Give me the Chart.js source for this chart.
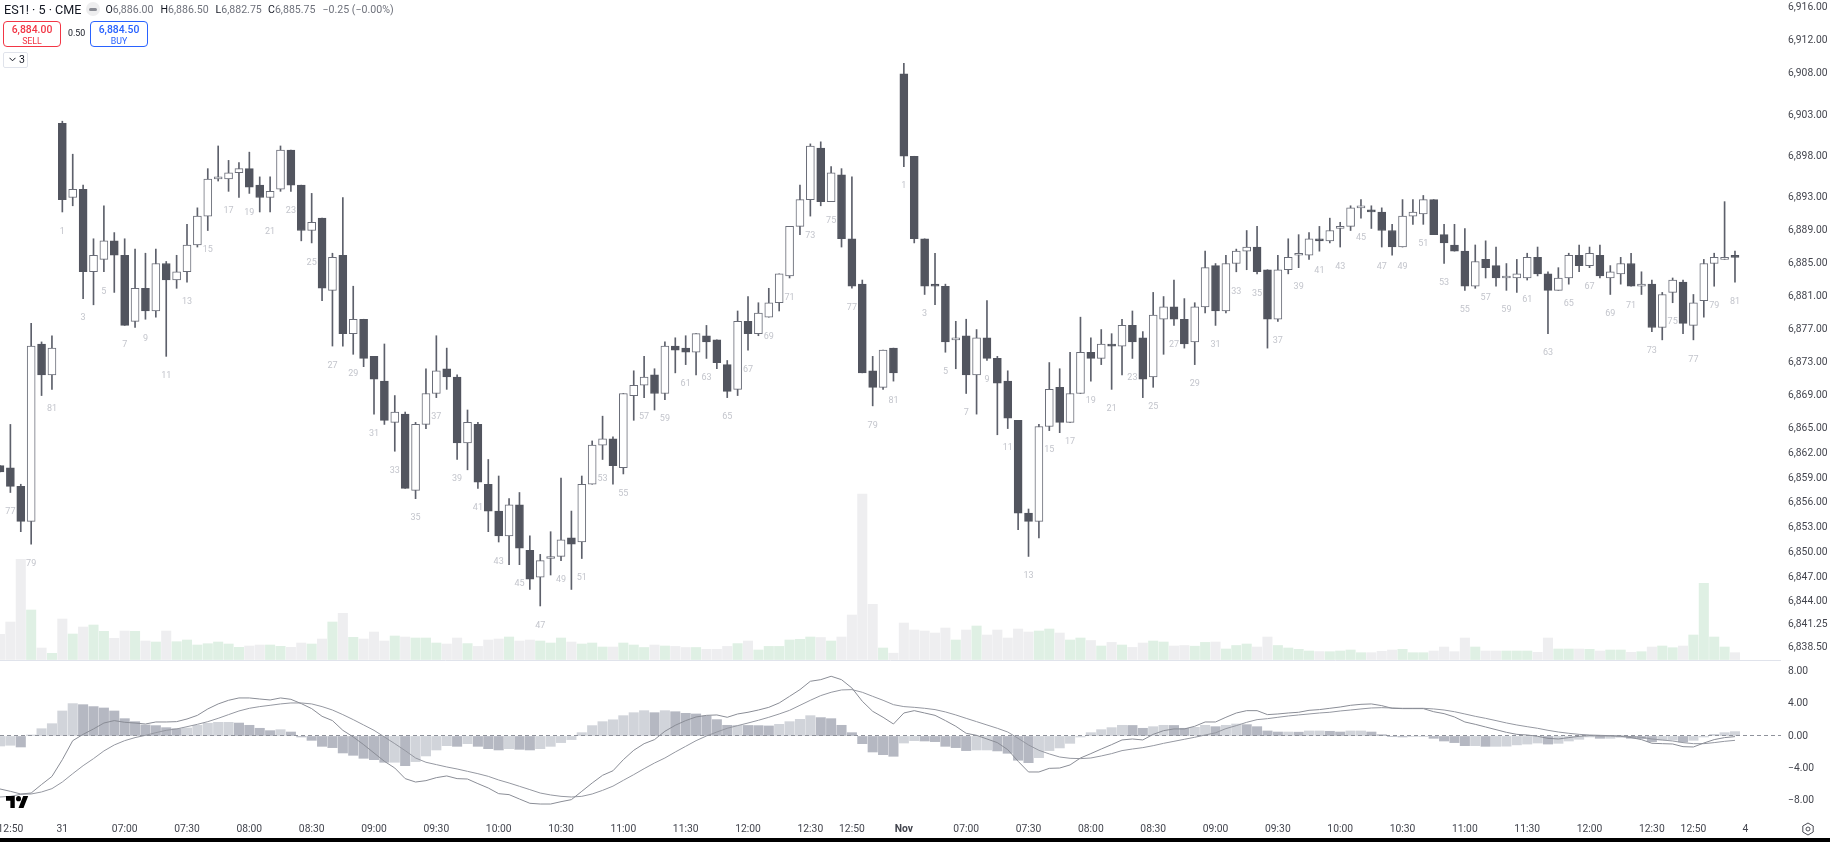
<!DOCTYPE html>
<html>
<head>
<meta charset="utf-8">
<title>ES1! 5 CME</title>
<script src="https://cdn.jsdelivr.net/npm/chart.js@4"></script>
<style>
  html, body { margin: 0; padding: 0; background: #000; overflow: hidden; }
  #wrap { position: relative; width: 1830px; height: 838px; background: #fff; font-family: Roboto, "Noto Sans", sans-serif; color: #131722; }
  #wrap canvas { position: absolute; left: 0; top: 0; }
  .abs { position: absolute; white-space: nowrap; }
  .title { left: 4px; top: 0; font-size: 12.6px; line-height: 19px; }
  .dot { left: 86px; top: 2px; width: 14px; height: 14px; border-radius: 50%; background: #eeeeef; }
  .dot i { position: absolute; left: 3px; top: 5.5px; width: 8px; height: 3px; border-radius: 2px; background: #8a8c94; }
  .ohlc { left: 105.5px; top: 0; font-size: 10.6px; line-height: 19px; color: #6f727c; }
  .ohlc span { position: absolute; top: 0; }
  .ohlc b { font-weight: 400; color: #131722; }
  .trade { top: 21px; width: 56px; height: 24px; border: 1px solid; border-radius: 4px; text-align: center; background: #fff; }
  .trade div { line-height: 10px; }
  .trade .p { font-size: 10.4px; font-weight: 500; margin-top: 2.5px; }
  .trade .s { font-size: 8.8px; margin-top: 1px; }
  .sell { left: 3px; border-color: #f23645; color: #f23645; }
  .buy { left: 90px; border-color: #2962ff; color: #2962ff; }
  .spread { left: 68px; top: 28px; font-size: 8.8px; line-height: 11px; color: #131722; }
  .toggle { left: 3px; top: 52px; width: 23px; height: 14px; border: 1px solid #e0e3eb; border-radius: 2px; font-size: 10.5px; line-height: 14px; }
  .toggle svg { position: absolute; left: 5px; top: 4px; }
  .toggle span { position: absolute; left: 15px; top: 0; }
</style>
</head>
<body>
<div id="wrap">
  <canvas id="chart" width="1830" height="838"></canvas>
  <div class="abs title">ES1! · 5 · CME</div>
  <div class="abs dot"><i></i></div>
  <div class="abs ohlc">
    <span style="left:0"><b>O</b>6,886.00</span>
    <span style="left:55px"><b>H</b>6,886.50</span>
    <span style="left:110px"><b>L</b>6,882.75</span>
    <span style="left:162.500px"><b>C</b>6,885.75</span>
    <span style="left:217px">−0.25 (−0.00%)</span>
  </div>
  <div class="abs trade sell"><div class="p">6,884.00</div><div class="s">SELL</div></div>
  <div class="abs spread">0.50</div>
  <div class="abs trade buy"><div class="p">6,884.50</div><div class="s">BUY</div></div>
  <div class="abs toggle"><svg width="7" height="5" viewBox="0 0 7 5"><path d="M.5.8 3.5 3.8 6.5.8" fill="none" stroke="#131722"/></svg><span>3</span></div>
  <svg class="abs" style="left:6px;top:796px" width="22.5" height="12" viewBox="0 4 36 18" preserveAspectRatio="none"><path d="M14 22H7V11H0V4h14v18zM28 22h-8l7.5-18h8L28 22z" fill="#000"/><circle cx="20" cy="8" r="4" fill="#000"/></svg>
  <svg class="abs" style="left:1801px;top:822px" width="14" height="14" viewBox="0 0 14 14"><path d="M7 1 12.2 4v6L7 13 1.800 10V4z" fill="none" stroke="#4a4c55"/><circle cx="7" cy="7" r="2" fill="none" stroke="#4a4c55"/></svg>
</div>
<script>
// bars, 5 min ES1!
var opens = [
  6860.5,6860.25,6858,6853.75,6875.25,6871.5,6902,6893,6894,6884,
  6885.5,6887.75,6886,6878,6882,6879.25,6885,6883,6884,6887.25,
  6890.75,6895.25,6895.25,6896,6896.5,6894.5,6893,6894,6898.75,6894.5,
  6889,6890.5,6881.75,6886,6876.5,6878.25,6873.75,6870.75,6865.75,6866.75,
  6857.5,6865.5,6869.25,6872.25,6871.25,6863.25,6865.5,6858.25,6855,6852,
  6855.75,6850.25,6847,6849.25,6849.5,6851.75,6851.25,6858.25,6863,6863.75,
  6860.25,6869,6870.25,6871.5,6869.25,6875,6874.75,6874.25,6876.25,6875.75,
  6872.75,6869.75,6878,6876.5,6878.5,6880.25,6883.5,6889.5,6892.75,6899,
  6892.5,6895.75,6888,6882.5,6872,6870,6874.75,6908,6898,6888,
  6882.5,6882.25,6875.75,6876.25,6871.5,6876,6873.5,6870.75,6866,6854.75,
  6853.75,6865.25,6870,6865.75,6869.25,6874.25,6873.5,6875.25,6875,6877.5,
  6876,6871.25,6878.25,6879.75,6878.25,6875.5,6879.75,6884.75,6879.25,6885,
  6886.5,6887,6884.25,6878.25,6884.25,6886,6886,6888,6887.75,6889.25,
  6889.5,6891.75,6891.5,6891.25,6889,6887,6890.75,6891,6892.75,6888.5,
  6887.25,6886.5,6882.25,6885.5,6884.75,6883.25,6883.25,6883.25,6885.75,6883.75,
  6881.75,6883.25,6886,6884.75,6886,6883.25,6883.75,6885,6882.25,6882.5,
  6877.25,6881.5,6882.75,6877.5,6880.5,6885,6885.5,6886
];
var highs = [
  6860.5,6865.5,6858.25,6877.75,6875.5,6876.25,6902.25,6898.25,6894.5,6888,
  6892,6888.75,6888,6886.75,6886.25,6886.75,6885.25,6886,6889.75,6891.75,
  6896.5,6899.25,6897.5,6897.25,6898.5,6895.5,6895.5,6899.25,6898.75,6894.5,
  6893.5,6890.5,6886.25,6893,6882.25,6878.25,6873.75,6875.25,6869,6867,
  6865.75,6872.25,6876.25,6874.75,6871.5,6867.25,6865.75,6861.25,6859.25,6856.5,
  6857.25,6852,6849.75,6852.5,6859,6855,6859.25,6863.5,6866.5,6864,
  6869.25,6872,6873.75,6872.25,6875.5,6876,6876.25,6876.5,6877.5,6875.75,
  6873.25,6879.25,6881,6880.25,6882,6883.75,6889.5,6894.5,6899.5,6899.75,
  6896.75,6896.5,6895.5,6883,6873.75,6874.5,6874.75,6909.25,6898,6888,
  6886.25,6882.5,6878,6878.25,6877,6880.5,6873.75,6872,6866,6855.25,
  6865.5,6873,6872.25,6874.25,6878.5,6876,6877,6876.5,6878.25,6879.25,
  6876.75,6881.5,6881,6883,6880.75,6880.25,6886.5,6885,6886,6886.75,
  6889,6889.5,6884.25,6886,6888,6888.5,6888.75,6889.5,6890.5,6890,
  6892,6892.75,6892,6891.75,6889.75,6892.75,6892.75,6893.25,6892.75,6889.75,
  6889.75,6889.25,6887.25,6887.75,6887,6885,6885.5,6886.25,6887,6884,
  6884.5,6886.25,6887.25,6887,6887.25,6884.75,6885.75,6886.25,6884,6883,
  6881.5,6883.25,6883,6881.25,6885.5,6886.25,6892.5,6886.5
];
var lows = [
  6859.75,6857.25,6852.5,6851,6869,6869.75,6891.25,6892,6880.75,6880,
  6884,6881.5,6877.5,6877.25,6878.25,6878.5,6873.75,6882,6882.75,6887,
  6889,6895,6893.75,6893,6893.5,6891.25,6891.25,6893.75,6893.75,6887.75,
  6887.5,6880.5,6875,6875,6874,6872.5,6866.75,6865.5,6862.25,6857.75,
  6856.5,6865,6868.75,6869.75,6861.25,6860,6857.75,6852.5,6851.25,6848.5,
  6848.5,6845.5,6843.5,6847.25,6849,6845.5,6849.25,6858.25,6861.25,6858.25,
  6859.5,6866,6868.75,6867.25,6868.5,6871.75,6872.75,6871.5,6873.5,6872.25,
  6868.75,6869,6874.5,6876.25,6878.5,6879.25,6883.25,6888.5,6890.75,6892,
  6892.5,6887,6882,6871.75,6867.75,6869.75,6870.75,6896.75,6887.5,6881.25,
  6880,6874.25,6872.25,6869.25,6866.75,6873.25,6864.25,6865,6852.75,6849.5,
  6851.75,6864.75,6864.5,6865.75,6869.25,6870.75,6872.75,6869.75,6871.5,6873.5,
  6868.75,6870,6874,6877.5,6874.75,6872.75,6879,6877.5,6879,6884,
  6884.25,6883.75,6874.75,6878,6883.75,6884.5,6885.5,6886.5,6887.5,6887,
  6889,6890.5,6889.25,6887,6886,6887,6889.75,6889.75,6888.5,6885,
  6886.5,6881.75,6882,6883.25,6882.25,6881.75,6881.5,6883,6883.5,6876.5,
  6881.75,6882.5,6884,6884.5,6883.25,6881.25,6882.5,6882.25,6881.25,6876.75,
  6875.75,6880.25,6876.5,6875.75,6878.5,6882.25,6885.5,6882.75
];
var closes = [
  6859.75,6858,6853.75,6875,6871.5,6874.75,6892.75,6894,6884,6886,
  6887.75,6886,6877.5,6882,6879.25,6885,6883,6884,6887.25,6890.75,
  6895.25,6895.5,6896,6896.5,6894.25,6893,6893.75,6898.75,6894.5,6889,
  6890,6882,6885.75,6876.5,6878.25,6873.5,6871,6866,6867,6857.75,
  6865.5,6869.25,6872,6871.25,6863.25,6865.75,6858.5,6855,6852,6855.75,
  6850.5,6846.75,6849,6849.25,6851.5,6851,6858.25,6863,6863.75,6860.5,
  6869.25,6870.25,6871.25,6869.25,6875,6874.5,6874.25,6876.5,6875.5,6873,
  6869.5,6878,6876.5,6879,6880.25,6883.75,6889.5,6892.75,6899.25,6892.5,
  6896,6888,6882.25,6871.75,6870,6874.5,6871.75,6898,6888,6882.25,
  6882.25,6875.5,6875.75,6871.5,6876,6873.5,6870.5,6866.25,6854.75,6853.75,
  6865.25,6869.75,6865.75,6869.25,6874.25,6873.5,6875.25,6875,6877.5,6875.5,
  6871,6878.75,6879.75,6878.25,6875.25,6879.75,6884.5,6879.25,6885,6886.5,
  6887,6884,6878.25,6884.25,6885.75,6886,6888,6887.75,6889,6889.5,
  6891.75,6891.75,6891.25,6889,6887,6890.75,6891.25,6892.75,6888.5,6887.5,
  6886.5,6882.25,6885.25,6884.5,6883.25,6883.25,6883.75,6885.75,6883.75,6881.75,
  6883.25,6886,6884.75,6886.25,6883.5,6884,6885,6882.25,6882.5,6877.25,
  6881.25,6883,6877.75,6880.25,6885,6885.75,6885.75,6885.75
];
var volumes = [
  2570,3800,10070,5000,1200,670,4100,2600,3300,3500,
  2870,2170,2900,2870,1900,1800,2900,1830,2000,1500,
  1630,1800,1600,1270,1400,1500,1500,1370,1270,1700,
  1600,2100,3800,4670,2270,2100,2800,1900,2400,2300,
  2200,2200,1700,1600,2200,1640,1360,2000,2100,2300,
  1900,2000,1900,1700,2200,1800,1600,1700,1300,1300,
  1700,1500,1250,1500,1400,1360,1250,1250,1070,1070,
  1360,1640,1900,1000,1360,1360,2000,2070,2300,2250,
  1900,2300,4500,16600,5570,1200,680,3700,3000,2900,
  2700,3200,2000,3000,3400,2500,3000,2200,3100,2800,
  2900,3100,2700,2000,2200,1950,1400,1760,1500,1260,
  1700,1900,1800,1400,1450,1380,1760,1800,1100,1450,
  1600,1300,2300,1450,1200,1070,900,840,830,900,
  1000,730,730,870,1000,1070,730,730,900,1300,
  830,2200,1300,900,900,900,900,900,770,2200,
  1100,1100,1100,1070,900,1000,1000,770,830,1300,
  1400,1230,1400,2500,7670,2300,1300,730
];
var macdHist = [
  -1.24,-1.15,-1.36,0.12,0.9,1.52,3.09,4.0,3.87,3.63,
  3.46,3.09,2.14,1.77,1.36,1.28,1.03,0.9,0.99,1.32,
  1.57,1.69,1.69,1.6,1.32,0.95,0.66,0.78,0.49,-0.12,
  -0.54,-1.28,-1.44,-2.1,-2.39,-2.76,-2.93,-3.25,-3.25,-3.67,
  -3.17,-2.47,-1.73,-1.2,-1.28,-0.95,-1.28,-1.57,-1.73,-1.57,
  -1.65,-1.73,-1.57,-1.28,-0.82,-0.45,0.41,1.28,1.77,2.0,
  2.51,2.88,3.13,2.88,3.13,3.0,2.8,2.72,2.47,2.02,
  1.32,1.32,1.3,1.28,1.24,1.44,1.77,2.06,2.51,2.27,
  2.14,1.32,0.41,-0.95,-1.98,-2.31,-2.51,-0.87,-0.58,-0.62,
  -0.7,-1.28,-1.44,-1.81,-1.73,-1.73,-1.85,-2.14,-3.0,-3.3,
  -2.68,-1.81,-1.48,-0.91,-0.12,0.41,0.78,1.03,1.32,1.3,
  0.95,1.15,1.32,1.3,0.95,1.07,1.32,1.15,1.32,1.48,
  1.4,1.15,0.62,0.49,0.49,0.47,0.62,0.62,0.58,0.49,
  0.62,0.62,0.49,0.16,-0.08,-0.12,-0.08,-0.04,-0.29,-0.62,
  -0.82,-1.2,-1.2,-1.28,-1.28,-1.26,-1.1,-1.0,-0.87,-1.0,
  -0.91,-0.62,-0.41,-0.12,-0.29,-0.29,-0.17,-0.29,-0.33,-0.7,
  -0.5,-0.5,-0.74,-0.54,-0.12,0.2,0.41,0.54
];
var macdLine = [
  -6.55,-6.84,-7.17,-7.05,-6.0,-5.0,-2.93,-0.58,0.2,0.87,
  1.6,1.9,1.69,1.6,1.48,1.73,1.73,1.77,2.1,2.55,
  3.34,3.96,4.41,4.7,4.7,4.57,4.45,4.7,4.53,4.0,
  3.38,2.43,1.9,0.7,-0.12,-1.07,-2.1,-3.13,-3.96,-5.27,
  -5.69,-5.52,-5.15,-4.94,-5.27,-5.32,-5.89,-6.43,-7.13,-7.25,
  -7.79,-8.32,-8.41,-8.41,-8.12,-7.87,-6.84,-5.81,-4.86,-4.3,
  -2.93,-1.77,-0.95,-0.45,0.58,1.32,1.9,2.35,2.55,2.6,
  2.31,2.72,2.93,3.21,3.54,4.08,4.9,5.73,6.76,6.96,
  7.38,6.96,5.93,4.29,3.05,2.31,1.48,2.84,3.13,2.84,
  2.55,1.9,1.2,0.33,0.08,-0.37,-0.82,-1.69,-3.13,-4.45,
  -4.45,-4.0,-3.96,-3.58,-2.72,-2.18,-1.61,-1.07,-0.49,-0.37,
  -0.49,0.2,0.66,0.87,0.87,1.2,1.73,1.73,2.31,2.84,
  3.13,3.13,2.64,2.72,2.84,2.93,3.17,3.26,3.42,3.58,
  3.79,3.91,3.96,3.75,3.42,3.38,3.38,3.38,3.0,2.76,
  2.35,1.73,1.44,1.11,0.78,0.45,0.2,0.12,-0.04,-0.29,
  -0.37,-0.2,-0.04,0.04,0,0,-0.04,-0.2,-0.45,-0.9,
  -0.95,-0.99,-1.32,-1.36,-0.87,-0.45,-0.2,-0.08
];
var signalLine = [
  -7.54,-7.46,-7.21,-7.17,-6.92,-6.51,-5.69,-4.66,-3.67,-2.8,
  -1.85,-1.11,-0.58,-0.2,0.08,0.41,0.7,0.87,1.15,1.44,
  1.77,2.18,2.64,3.09,3.42,3.63,3.79,3.96,4.08,4.08,
  3.96,3.63,3.21,2.64,2.02,1.36,0.7,-0.12,-0.95,-1.81,
  -2.72,-3.25,-3.54,-3.83,-4.08,-4.37,-4.66,-4.99,-5.44,-5.81,
  -6.22,-6.63,-7.05,-7.29,-7.46,-7.54,-7.46,-7.17,-6.72,-6.2,
  -5.48,-4.78,-4.04,-3.34,-2.72,-1.98,-1.28,-0.58,0,0.49,
  0.95,1.28,1.6,1.94,2.31,2.72,3.17,3.79,4.41,4.99,
  5.4,5.69,5.73,5.4,4.9,4.41,3.87,3.63,3.54,3.42,
  3.26,2.97,2.6,2.18,1.77,1.36,0.95,0.49,-0.29,-1.11,
  -1.77,-2.22,-2.6,-2.76,-2.8,-2.72,-2.47,-2.18,-1.81,-1.61,
  -1.44,-1.2,-0.91,-0.66,-0.41,-0.16,0.12,0.39,0.91,1.28,
  1.69,2.02,2.14,2.31,2.47,2.6,2.72,2.84,2.93,3.09,
  3.21,3.34,3.46,3.5,3.46,3.42,3.42,3.42,3.34,3.21,
  3.0,2.72,2.43,2.18,1.9,1.61,1.36,1.15,0.95,0.7,
  0.49,0.33,0.2,0.12,0.08,0.04,0,-0.08,-0.16,-0.37,
  -0.5,-0.62,-0.82,-0.95,-0.95,-0.82,-0.66,-0.54
];
var priceTicks = [6916,6912,6908,6903,6898,6893,6889,6885,6881,6877,6873,6869,6865,6862,6859,6856,6853,6850,6847,6844,6841.25,6838.5];
var macdTicks = [8,4,0,-4,-8];
var timeTickBars = [1,6,12,18,24,30,36,42,48,54,60,66,72,78,82,87,93,99,105,111,117,123,129,135,141,147,153,159,163,168];
var timeTickLabels = ['12:50','31','07:00','07:30','08:00','08:30','09:00','09:30','10:00','10:30','11:00','11:30','12:00','12:30','12:50','Nov','07:00','07:30','08:00','08:30','09:00','09:30','10:00','10:30','11:00','11:30','12:00','12:30','12:50','4'];

var upBodies = [], downBodies = [], wicks = [], volUp = [], volDown = [];
var histLight = [], histDark = [], macdPts = [], signalPts = [];

for (var i = 0; i < opens.length; i++) {
    var up = closes[i] >= opens[i];
    wicks.push({x: i, y: [lows[i], highs[i]]});
    (up ? upBodies : downBodies).push({x: i, y: [opens[i], closes[i]]});
    (up ? volUp : volDown).push({x: i, y: volumes[i]});

    // histogram shade follows rising / falling against the previous bar
    var prev = i > 0 ? macdHist[i - 1] : macdHist[i];
    (macdHist[i] >= prev ? histLight : histDark).push({x: i, y: macdHist[i]});

    macdPts.push({x: i, y: macdLine[i]});
    signalPts.push({x: i, y: signalLine[i]});
}

// bar counters under each odd bar, session starts at bar 6 and 87
var barLabels = {
    id: 'barLabels',
    afterDatasetsDraw: function (chart) {
        var c = chart.ctx, xs = chart.scales.x, ys = chart.scales.y;
        c.save();
        c.font = '9px Roboto';
        c.fillStyle = '#c3c5cc';
        c.textAlign = 'center';
        c.textBaseline = 'middle';
        for (var i = 0; i < lows.length; i++) {
            var n = (i + 75) % 81 + 1;
            if (n % 2 == 1) {
                c.fillText(n, xs.getPixelForValue(i), ys.getPixelForValue(lows[i]) + 19.5);
            }
        }
        c.restore();
    }
};

var axisFont = {family: 'Roboto', size: 10.3};
var axisColor = '#43454e';

function noPad(s) {
    s.width = 49;
    s.paddingTop = 0;
    s.paddingBottom = 0;
}

new Chart(document.getElementById('chart'), {
    type: 'bar',
    plugins: [barLabels],
    data: {
        datasets: [
            {label: 'Volume up', data: volUp, yAxisID: 'vol', backgroundColor: '#dff0e4', barThickness: 9.4, grouped: false, order: 8},
            {label: 'Volume down', data: volDown, yAxisID: 'vol', backgroundColor: '#eeeef0', barThickness: 9.4, grouped: false, order: 8},
            {label: 'Histogram rising', data: histLight, yAxisID: 'macd', backgroundColor: '#d1d4da', barThickness: 9.4, grouped: false, order: 7},
            {label: 'Histogram falling', data: histDark, yAxisID: 'macd', backgroundColor: '#b5b8c2', barThickness: 9.4, grouped: false, order: 7},
            {label: 'Wicks', data: wicks, yAxisID: 'y', backgroundColor: '#5d606b', barThickness: 1, grouped: false, order: 6},
            {label: 'Up', data: upBodies, yAxisID: 'y', backgroundColor: '#ffffff', borderColor: '#6a6d78', borderWidth: 1, borderSkipped: false, barThickness: 8, minBarLength: 2, grouped: false, order: 5},
            {label: 'Down', data: downBodies, yAxisID: 'y', backgroundColor: '#52555f', borderColor: '#52555f', borderWidth: 1, borderSkipped: false, barThickness: 8, minBarLength: 2, grouped: false, order: 4},
            {type: 'line', label: 'Signal', data: signalPts, yAxisID: 'macd', borderColor: '#9598a1', borderWidth: 1, pointRadius: 0, tension: 0, order: 2},
            {type: 'line', label: 'MACD', data: macdPts, yAxisID: 'macd', borderColor: '#8a8d96', borderWidth: 1, pointRadius: 0, tension: 0, order: 1}
        ]
    },
    options: {
        responsive: false,
        animation: false,
        events: [],
        layout: {padding: 0},
        plugins: {legend: {display: false}, tooltip: {enabled: false}},
        scales: {
            x: {
                type: 'linear',
                min: 0,
                max: 171.43,
                offset: false,
                grid: {display: false, drawTicks: false},
                border: {display: false},
                afterBuildTicks: function (s) { s.ticks = timeTickBars.map(function (b) { return {value: b}; }); },
                afterFit: function (s) { s.height = 22; s.paddingLeft = 0; s.paddingRight = 0; },
                ticks: {
                    autoSkip: false,
                    maxRotation: 0,
                    padding: 7,
                    color: axisColor,
                    font: function (ctx) {
                        return ctx.tick && ctx.tick.value == 87 ? {family: 'Roboto', size: 10.3, weight: 'bold'} : axisFont;
                    },
                    callback: function (v) { return timeTickLabels[timeTickBars.indexOf(v)]; }
                }
            },
            y: {
                position: 'right',
                stack: 'panes',
                stackWeight: 660,
                min: 6836.95,
                max: 6916.94,
                grid: {display: false, drawTicks: false},
                border: {display: false},
                afterBuildTicks: function (s) { s.ticks = priceTicks.map(function (v) { return {value: v}; }); },
                afterFit: noPad,
                ticks: {
                    autoSkip: false,
                    padding: 7,
                    color: axisColor,
                    font: axisFont,
                    callback: function (v) { return v.toLocaleString('en-US', {minimumFractionDigits: 2, maximumFractionDigits: 2}); }
                }
            },
            macd: {
                position: 'right',
                stack: 'panes',
                stackWeight: 156,
                min: -9.89,
                max: 9.39,
                grid: {
                    z: 1,
                    drawTicks: false,
                    color: function (ctx) { return ctx.tick && ctx.tick.value === 0 ? '#8f929b' : 'transparent'; }
                },
                border: {display: false, dash: [4, 3]},
                afterBuildTicks: function (s) { s.ticks = macdTicks.map(function (v) { return {value: v}; }); },
                afterFit: noPad,
                ticks: {
                    autoSkip: false,
                    padding: 7,
                    color: axisColor,
                    font: axisFont,
                    callback: function (v) { return (v < 0 ? '\u2212' : '') + Math.abs(v).toFixed(2); }
                }
            },
            vol: {
                position: 'left',
                min: -15600,
                max: 66000,
                grid: {drawTicks: false, color: '#e0e3eb'},
                border: {display: false},
                afterBuildTicks: function (s) { s.ticks = [{value: 0}]; },
                afterFit: function (s) { s.width = 0; s.paddingTop = 0; s.paddingBottom = 0; },
                ticks: {display: false}
            }
        }
    }
});
</script>
</body>
</html>
